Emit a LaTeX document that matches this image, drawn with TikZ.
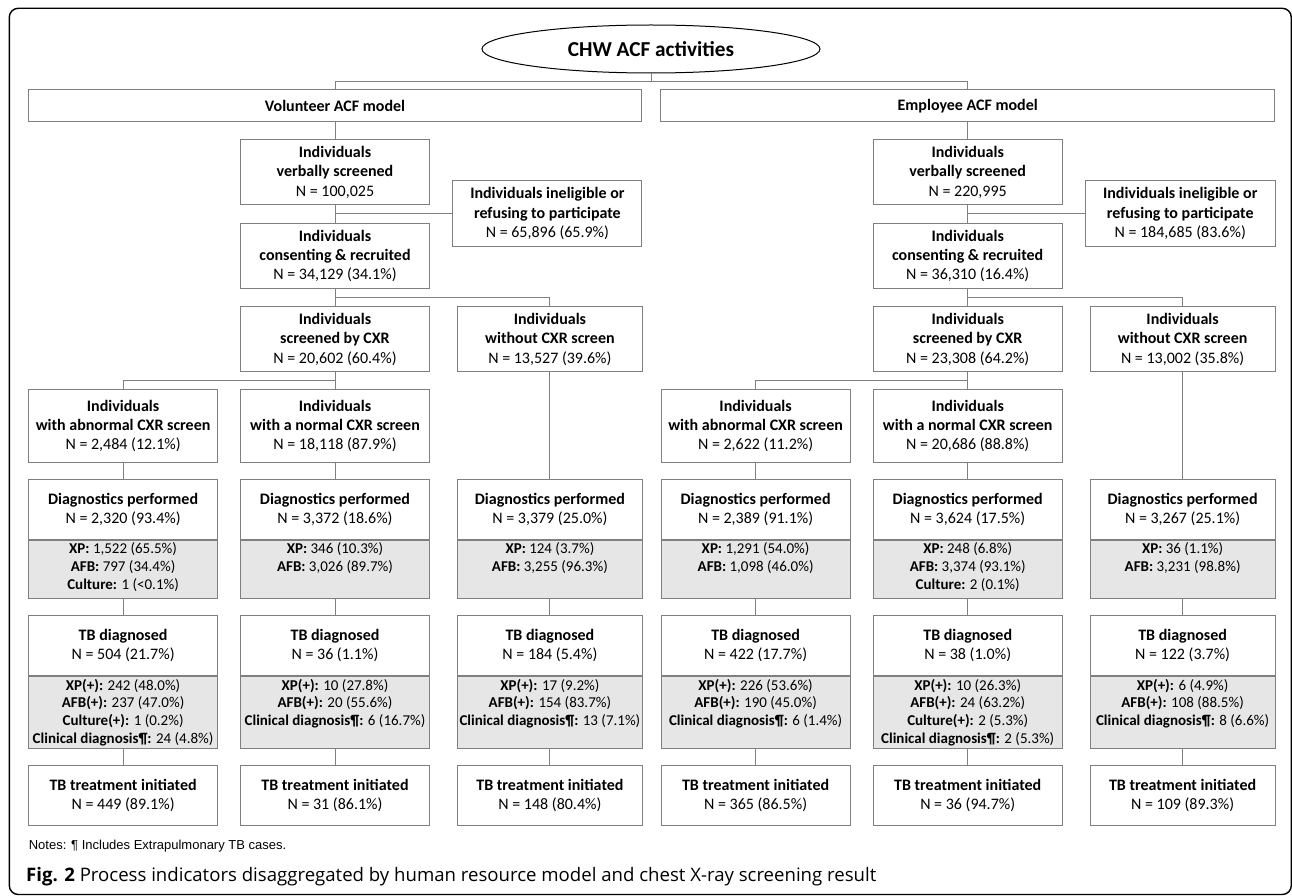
\documentclass[tikz,border=0pt]{standalone}
\usepackage{fontspec}
\setmainfont{Carlito}
\newfontfamily\notefont{Liberation Sans}
\newfontfamily\capfont{Open Sans}
\usetikzlibrary{calc,shapes.geometric}
\definecolor{boxgray}{HTML}{7F7F7F}
\definecolor{linegray}{HTML}{808080}
\definecolor{shadegray}{HTML}{E6E6E6}
\tikzset{
  frame/.style={black, line width=1.4pt, rounded corners=9pt},
  titlenode/.style={ellipse, draw=black, line width=1pt, minimum width=338pt, minimum height=48pt, inner sep=0pt, font=\fontsize{21.3}{25}\selectfont\bfseries},
  modelbox/.style={draw=boxgray, line width=1pt, minimum height=32pt, inner sep=0pt, font=\fontsize{16}{19.3}\selectfont\bfseries},
  stepbox/.style={draw=boxgray, line width=1pt, fill=white, align=center, minimum width=189pt, inner sep=0pt, font=\fontsize{16}{19.3}\selectfont},
  greybox/.style={draw=boxgray, line width=1pt, fill=shadegray, minimum width=189pt, inner sep=0pt, anchor=north},
  greytext/.style={align=center, anchor=north, inner sep=3pt, font=\fontsize{15}{17.8}\selectfont},
  link/.style={linegray, line width=1pt}
}

\begin{document}
\begin{tikzpicture}[x=1pt, y=-1pt]
  \useasboundingbox (0,0) rectangle (1292,896);
  \draw[frame] (9.3,8.3) rectangle (1291.3,894.5);

  \node[titlenode] (title) at (651,49) {CHW ACF activities};
  \node[modelbox, minimum width=613pt] (vol) at (335,106) {Volunteer ACF model};
  \node[modelbox, minimum width=614pt] (emp) at (967.7,106) {Employee ACF model};

  % volunteer model
  \node[stepbox, minimum height=65pt] (vverb) at (335,172.3) {\textbf{Individuals}\\\textbf{verbally screened}\\N = 100,025};
  \node[stepbox, minimum height=66pt] (vinel) at (547.4,213.7) {\textbf{Individuals ineligible or}\\\textbf{refusing to participate}\\N = 65,896 (65.9\%)};
  \node[stepbox, minimum height=65pt] (vcons) at (335,255.8) {\textbf{Individuals}\\\textbf{consenting \& recruited}\\N = 34,129 (34.1\%)};
  \node[stepbox, minimum height=65pt] (vscr) at (335,339.2) {\textbf{Individuals}\\\textbf{screened by CXR}\\N = 20,602 (60.4\%)};
  \node[stepbox, minimum height=65pt, minimum width=185pt] (vnoscr) at (549.9,339.2) {\textbf{Individuals}\\\textbf{without CXR screen}\\N = 13,527 (39.6\%)};
  \node[stepbox, minimum height=73pt] (vAres) at (123.1,425.8) {\textbf{Individuals}\\\textbf{with abnormal CXR screen}\\N = 2,484 (12.1\%)};
  \node[stepbox, minimum height=73pt] (vBres) at (335,425.8) {\textbf{Individuals}\\\textbf{with a normal CXR screen}\\N = 18,118 (87.9\%)};

  \node[stepbox, minimum height=59.7pt] (vAdx) at (123.1,509.2) {\textbf{Diagnostics performed}\\N = 2,320 (93.4\%)};
  \node[greybox, minimum height=58.7pt] (vAdxg) at (vAdx.south) {};
  \node[greytext] (vAdxt) at (vAdxg.north) {\textbf{XP:} 1,522 (65.5\%)\\\textbf{AFB:} 797 (34.4\%)\\\textbf{Culture:} 1 (<0.1\%)};
  \node[stepbox, minimum height=59.7pt] (vBdx) at (335,509.2) {\textbf{Diagnostics performed}\\N = 3,372 (18.6\%)};
  \node[greybox, minimum height=58.7pt] (vBdxg) at (vBdx.south) {};
  \node[greytext] (vBdxt) at (vBdxg.north) {\textbf{XP:} 346 (10.3\%)\\\textbf{AFB:} 3,026 (89.7\%)};
  \node[stepbox, minimum height=59.7pt, minimum width=185pt] (vCdx) at (549.9,509.2) {\textbf{Diagnostics performed}\\N = 3,379 (25.0\%)};
  \node[greybox, minimum height=58.7pt, minimum width=185pt] (vCdxg) at (vCdx.south) {};
  \node[greytext] (vCdxt) at (vCdxg.north) {\textbf{XP:} 124 (3.7\%)\\\textbf{AFB:} 3,255 (96.3\%)};

  \node[stepbox, minimum height=59.6pt] (vAtb) at (123.1,645.5) {\textbf{TB diagnosed}\\N = 504 (21.7\%)};
  \node[greybox, minimum height=72.4pt] (vAtbg) at (vAtb.south) {};
  \node[greytext] (vAtbt) at (vAtbg.north) {\textbf{XP(+):} 242 (48.0\%)\\\textbf{AFB(+):} 237 (47.0\%)\\\textbf{Culture(+):} 1 (0.2\%)\\\textbf{Clinical diagnosis¶:} 24 (4.8\%)};
  \node[stepbox, minimum height=59.6pt] (vBtb) at (335,645.5) {\textbf{TB diagnosed}\\N = 36 (1.1\%)};
  \node[greybox, minimum height=72.4pt] (vBtbg) at (vBtb.south) {};
  \node[greytext] (vBtbt) at (vBtbg.north) {\textbf{XP(+):} 10 (27.8\%)\\\textbf{AFB(+):} 20 (55.6\%)\\\textbf{Clinical diagnosis¶:} 6 (16.7\%)};
  \node[stepbox, minimum height=59.6pt, minimum width=185pt] (vCtb) at (549.9,645.5) {\textbf{TB diagnosed}\\N = 184 (5.4\%)};
  \node[greybox, minimum height=72.4pt, minimum width=185pt] (vCtbg) at (vCtb.south) {};
  \node[greytext] (vCtbt) at (vCtbg.north) {\textbf{XP(+):} 17 (9.2\%)\\\textbf{AFB(+):} 154 (83.7\%)\\\textbf{Clinical diagnosis¶:} 13 (7.1\%)};

  \node[stepbox, minimum height=60pt] (vAtr) at (123.1,795.7) {\textbf{TB treatment initiated}\\N = 449 (89.1\%)};
  \node[stepbox, minimum height=60pt] (vBtr) at (335,795.7) {\textbf{TB treatment initiated}\\N = 31 (86.1\%)};
  \node[stepbox, minimum height=60pt, minimum width=185pt] (vCtr) at (549.9,795.7) {\textbf{TB treatment initiated}\\N = 148 (80.4\%)};

  % employee model
  \node[stepbox, minimum height=65pt] (everb) at (967.7,172.3) {\textbf{Individuals}\\\textbf{verbally screened}\\N = 220,995};
  \node[stepbox, minimum height=66pt, minimum width=189.7pt] (einel) at (1180.2,213.7) {\textbf{Individuals ineligible or}\\\textbf{refusing to participate}\\N = 184,685 (83.6\%)};
  \node[stepbox, minimum height=65pt] (econs) at (967.7,255.8) {\textbf{Individuals}\\\textbf{consenting \& recruited}\\N = 36,310 (16.4\%)};
  \node[stepbox, minimum height=65pt] (escr) at (967.7,339.2) {\textbf{Individuals}\\\textbf{screened by CXR}\\N = 23,308 (64.2\%)};
  \node[stepbox, minimum height=65pt, minimum width=185pt] (enoscr) at (1182.6,339.2) {\textbf{Individuals}\\\textbf{without CXR screen}\\N = 13,002 (35.8\%)};
  \node[stepbox, minimum height=73pt] (eAres) at (755.6,425.8) {\textbf{Individuals}\\\textbf{with abnormal CXR screen}\\N = 2,622 (11.2\%)};
  \node[stepbox, minimum height=73pt] (eBres) at (967.7,425.8) {\textbf{Individuals}\\\textbf{with a normal CXR screen}\\N = 20,686 (88.8\%)};

  \node[stepbox, minimum height=59.7pt] (eAdx) at (755.6,509.2) {\textbf{Diagnostics performed}\\N = 2,389 (91.1\%)};
  \node[greybox, minimum height=58.7pt] (eAdxg) at (eAdx.south) {};
  \node[greytext] (eAdxt) at (eAdxg.north) {\textbf{XP:} 1,291 (54.0\%)\\\textbf{AFB:} 1,098 (46.0\%)};
  \node[stepbox, minimum height=59.7pt] (eBdx) at (967.7,509.2) {\textbf{Diagnostics performed}\\N = 3,624 (17.5\%)};
  \node[greybox, minimum height=58.7pt] (eBdxg) at (eBdx.south) {};
  \node[greytext] (eBdxt) at (eBdxg.north) {\textbf{XP:} 248 (6.8\%)\\\textbf{AFB:} 3,374 (93.1\%)\\\textbf{Culture:} 2 (0.1\%)};
  \node[stepbox, minimum height=59.7pt, minimum width=185pt] (eCdx) at (1182.6,509.2) {\textbf{Diagnostics performed}\\N = 3,267 (25.1\%)};
  \node[greybox, minimum height=58.7pt, minimum width=185pt] (eCdxg) at (eCdx.south) {};
  \node[greytext] (eCdxt) at (eCdxg.north) {\textbf{XP:} 36 (1.1\%)\\\textbf{AFB:} 3,231 (98.8\%)};

  \node[stepbox, minimum height=59.6pt] (eAtb) at (755.6,645.5) {\textbf{TB diagnosed}\\N = 422 (17.7\%)};
  \node[greybox, minimum height=72.4pt] (eAtbg) at (eAtb.south) {};
  \node[greytext] (eAtbt) at (eAtbg.north) {\textbf{XP(+):} 226 (53.6\%)\\\textbf{AFB(+):} 190 (45.0\%)\\\textbf{Clinical diagnosis¶:} 6 (1.4\%)};
  \node[stepbox, minimum height=59.6pt] (eBtb) at (967.7,645.5) {\textbf{TB diagnosed}\\N = 38 (1.0\%)};
  \node[greybox, minimum height=72.4pt] (eBtbg) at (eBtb.south) {};
  \node[greytext] (eBtbt) at (eBtbg.north) {\textbf{XP(+):} 10 (26.3\%)\\\textbf{AFB(+):} 24 (63.2\%)\\\textbf{Culture(+):} 2 (5.3\%)\\\textbf{Clinical diagnosis¶:} 2 (5.3\%)};
  \node[stepbox, minimum height=59.6pt, minimum width=185pt] (eCtb) at (1182.6,645.5) {\textbf{TB diagnosed}\\N = 122 (3.7\%)};
  \node[greybox, minimum height=72.4pt, minimum width=185pt] (eCtbg) at (eCtb.south) {};
  \node[greytext] (eCtbt) at (eCtbg.north) {\textbf{XP(+):} 6 (4.9\%)\\\textbf{AFB(+):} 108 (88.5\%)\\\textbf{Clinical diagnosis¶:} 8 (6.6\%)};

  \node[stepbox, minimum height=60pt] (eAtr) at (755.6,795.7) {\textbf{TB treatment initiated}\\N = 365 (86.5\%)};
  \node[stepbox, minimum height=60pt] (eBtr) at (967.7,795.7) {\textbf{TB treatment initiated}\\N = 36 (94.7\%)};
  \node[stepbox, minimum height=60pt, minimum width=185pt] (eCtr) at (1182.6,795.7) {\textbf{TB treatment initiated}\\N = 109 (89.3\%)};

  % connectors
  \coordinate (tsplit) at ($(title.south)!.5!(title.south |- vol.north)$);
  \draw[link] (title.south) -- (tsplit) -| (vol.north);
  \draw[link] (tsplit) -| (emp.north);
  \draw[link] (vol.south) -- (vverb.north);
  \draw[link] (emp.south) -- (everb.north);
  \foreach \m in {v,e}{
    \draw[link] (\m verb.south) -- (\m cons.north);
    \draw[link] (\m verb.south |- \m inel.west) -- (\m inel.west);
    \draw[link] (\m cons.south) -- (\m scr.north);
    \draw[link] ($(\m cons.south)!.5!(\m scr.north)$) -| (\m noscr.north);
    \draw[link] (\m scr.south) -- (\m Bres.north);
    \draw[link] ($(\m scr.south)!.5!(\m Bres.north)$) -| (\m Ares.north);
    \draw[link] (\m Ares.south) -- (\m Adx.north);
    \draw[link] (\m Bres.south) -- (\m Bdx.north);
    \draw[link] (\m noscr.south) -- (\m Cdx.north);
    \foreach \c in {A,B,C}{
      \draw[link] (\m\c dxg.south) -- (\m\c tb.north);
      \draw[link] (\m\c tbg.south) -- (\m\c tr.north);
    }
  }

  \node[anchor=west, inner sep=0pt, font=\notefont\fontsize{13}{15}\selectfont] (notes) at (28.6,845.7) {Notes: ¶ Includes Extrapulmonary TB cases.};
  \node[anchor=west, inner sep=0pt, font=\capfont\fontsize{18.6}{22}\selectfont] (caption) at (26,876.7) {\textbf{Fig. 2} Process indicators disaggregated by human resource model and chest X-ray screening result};
\end{tikzpicture}
\end{document}
